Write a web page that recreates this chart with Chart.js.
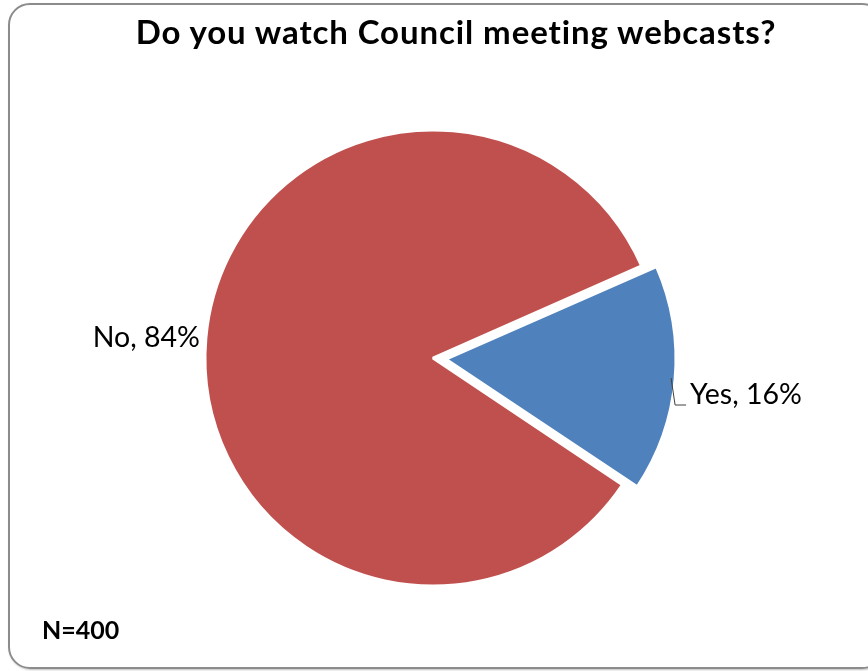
<!DOCTYPE html>
<html>
<head>
<meta charset="utf-8">
<title>Council meeting webcasts</title>
<script src="https://cdn.jsdelivr.net/npm/chart.js@4"></script>
<style>
  html, body { margin: 0; padding: 0; background: #fff; overflow: hidden; }
  #wrap { position: relative; width: 868px; height: 671px; overflow: hidden; }
  #frame {
    position: absolute; left: 8px; top: 3px; width: 876px; height: 666px;
    border: 2.5px solid #8c8c8c; border-radius: 22px; box-sizing: border-box;
    box-shadow: 1px 1px 2px rgba(0,0,0,0.25);
  }
  #title {
    position: absolute; left: 456px; top: 12px; transform: translateX(-50%);
    white-space: nowrap; font: bold 33px Lato, sans-serif; letter-spacing: 0.9px;
    line-height: 1.2; color: #000;
  }
  #note {
    position: absolute; left: 42px; top: 614px;
    font: bold 25px Lato, sans-serif; color: #000;
  }
  #chart { position: absolute; left: 0; top: 0; }
</style>
</head>
<body>
<div id="wrap">
  <div id="frame"></div>
  <canvas id="chart" width="868" height="671"></canvas>
  <div id="title">Do you watch Council meeting webcasts?</div>
  <div id="note">N=400</div>
</div>
<script>
// survey answers
const answers = ["Yes", "No"];
const shares = [16, 84];
const sliceColors = ["#4F81BD", "#C0504D"];

const ctx = document.getElementById("chart");

// Labels outside the slices; the small slice gets a bent leader line
const sliceLabels = {
  id: "sliceLabels",
  afterDatasetsDraw(chart) {
    const c = chart.ctx;
    const meta = chart.getDatasetMeta(0);
    c.save();
    c.font = "28.5px Lato, sans-serif";
    c.fillStyle = "#000";
    c.textBaseline = "middle";
    meta.data.forEach((arc, i) => {
      const { x, y, startAngle, endAngle, outerRadius } = arc.getProps(["x", "y", "startAngle", "endAngle", "outerRadius"]);
      const mid = (startAngle + endAngle) / 2;
      const shift = (arc.options.offset || 0) / 4;
      const cx = x + Math.cos(mid) * shift;
      const cy = y + Math.sin(mid) * shift;
      const text = `${answers[i]}, ${shares[i]}%`;
      if (Math.cos(mid) > 0) {
        const sx = cx + Math.cos(mid) * outerRadius;
        const sy = cy + Math.sin(mid) * outerRadius;
        c.strokeStyle = "#404040";
        c.lineWidth = 1;
        c.beginPath();
        c.moveTo(sx - 2, sy - 1);
        c.lineTo(sx + 2, sy + 26);
        c.lineTo(sx + 13, sy + 26);
        c.stroke();
        c.textAlign = "left";
        c.fillText(text, sx + 17, sy + 16);
      } else {
        const r = outerRadius + 6;
        c.textAlign = "right";
        c.fillText(text, cx + Math.cos(mid) * r, cy + Math.sin(mid) * r);
      }
    });
    c.restore();
  }
};

const chart = new Chart(ctx, {
  type: "pie",
  data: {
    labels: answers,
    datasets: [{
      data: shares,
      backgroundColor: sliceColors,
      borderColor: "#ffffff",
      borderWidth: 3,
      offset: [52, 0],
      hoverOffset: 0,
      radius: 228
    }]
  },
  options: {
    responsive: false,
    animation: false,
    rotation: 66.2,
    layout: { padding: { left: 0, right: 2, top: 45, bottom: 0 } },
    plugins: {
      legend: { display: false },
      tooltip: { enabled: false },
      title: { display: false }
    }
  },
  plugins: [sliceLabels]
});
</script>
</body>
</html>
